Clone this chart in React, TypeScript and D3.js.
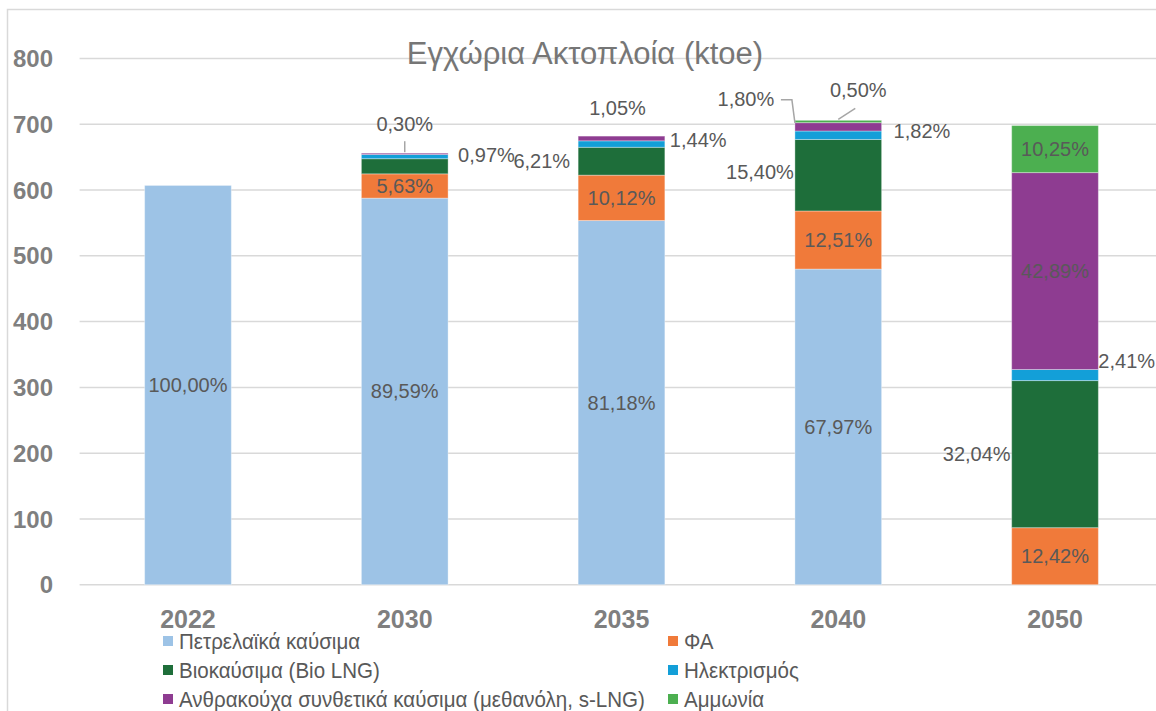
import React from "react";
import * as d3 from "d3";

const years = ["2022", "2030", "2035", "2040", "2050"];
const totals = [607, 656, 682, 706, 698];
const petroleum = [100.0, 89.59, 81.18, 67.97, 0];
const naturalGas = [0, 5.63, 10.12, 12.51, 12.42];
const biofuels = [0, 3.51, 6.21, 15.4, 32.04];
const electricity = [0, 0.97, 1.44, 1.82, 2.41];
const synthetic = [0, 0.3, 1.05, 1.8, 42.89];
const ammonia = [0, 0, 0, 0.5, 10.25];
const yTicks = [0, 100, 200, 300, 400, 500, 600, 700, 800];

const seriesNames = [
  "Πετρελαϊκά καύσιμα",
  "ΦΑ",
  "Βιοκαύσιμα (Bio LNG)",
  "Ηλεκτρισμός",
  "Ανθρακούχα συνθετικά καύσιμα (μεθανόλη, s-LNG)",
  "Αμμωνία",
];
const seriesShares = [petroleum, naturalGas, biofuels, electricity, synthetic, ammonia];
const colors = ["#9DC3E6", "#F07A3A", "#1E6E3A", "#139FD8", "#8E3C91", "#4CAF50"];

// label placement: c=centre, l=left, r=right, a=above, n=none, custom keys
const placement: string[][] = [
  ["c", "c", "c", "c", "n"],
  ["n", "c", "c", "c", "c"],
  ["n", "n", "l", "l", "l"],
  ["n", "r", "r", "r", "r"],
  ["n", "a1", "a2", "ul", "c"],
  ["n", "n", "n", "ar", "c"],
];

const W = 1156;
const H = 711;
const fmt = (v: number) => v.toFixed(2).replace(".", ",") + "%";

export default function App() {
  const x = d3.scaleBand().domain(years).range([79.6, 1163.4]).paddingInner(0.6).paddingOuter(0.3);
  const y = d3.scaleLinear().domain([0, 800]).range([584.7, 58.5]);
  const bw = x.bandwidth();

  const data = years.map((yr, i) => {
    const row: any = { year: yr };
    seriesNames.forEach((s, k) => (row[s] = (totals[i] * seriesShares[k][i]) / 100));
    return row;
  });
  const stacked = d3.stack<any>().keys(seriesNames)(data);

  const labelFont = "'Liberation Sans', Arial, sans-serif";
  const labelColor = "#595959";

  const labels: React.ReactNode[] = [];
  const leaders: React.ReactNode[] = [];
  stacked.forEach((layer, k) => {
    layer.forEach((seg, i) => {
      const mode = placement[k][i];
      if (mode === "n") return;
      const yr = years[i];
      const x0 = x(yr)!;
      const cx = x0 + bw / 2;
      const yTop = y(seg[1]);
      const yBot = y(seg[0]);
      const my = (yTop + yBot) / 2;
      const txt = fmt(seriesShares[k][i]);
      let tx = cx, ty = my, anchor = "middle";
      if (mode === "l") {
        anchor = "end";
        tx = x0 - (i === 2 ? 8 : 1);
        ty = my + (i === 3 ? -3 : 0);
      } else if (mode === "r") {
        anchor = "start";
        const off = [0, 10, 5, 12, 0][i];
        const dys = [0, -2, -4, -4, -14][i];
        tx = x0 + bw + off;
        ty = my + dys;
      } else if (mode === "a1") {
        ty = yTop - 29;
        leaders.push(
          <line key={"ld" + k + i} x1={cx} x2={cx} y1={yTop - 12} y2={yTop - 1} stroke="#a6a6a6" strokeWidth={1.5} />
        );
      } else if (mode === "a2") {
        tx = cx - 4;
        ty = yTop - 28;
      } else if (mode === "ul") {
        tx = x0 - 49;
        ty = my - 28;
        leaders.push(
          <polyline key={"ld" + k + i} points={`${x0 - 14},${ty + 1} ${x0 - 3},${ty + 1} ${x0},${my - 4}`} fill="none" stroke="#a6a6a6" strokeWidth={1.5} />
        );
      } else if (mode === "ar") {
        tx = cx + 20;
        ty = yTop - 30;
        leaders.push(
          <line key={"ld" + k + i} x1={cx + 17} y1={yTop - 12} x2={cx} y2={yTop - 1} stroke="#a6a6a6" strokeWidth={1.5} />
        );
      }
      labels.push(
        <text key={"lb" + k + i} x={tx} y={ty} dy="0.35em" textAnchor={anchor} fontFamily={labelFont} fontSize={20} fill={labelColor}>
          {txt}
        </text>
      );
    });
  });

  const legendRows = [641, 670, 699];
  const legendCols = [163, 668];

  return (
    <div style={{ position: "absolute", left: 0, top: 0 }}>
      <svg width={W} height={H} style={{ display: "block" }}>
        <rect x={0} y={0} width={W} height={H} fill="#fff" />
        <rect x={7.5} y={9.5} width={W + 20} height={H + 20} fill="none" stroke="#d9d9d9" strokeWidth={1.5} />
        {yTicks.map((t) => (
          <g key={t}>
            <line x1={79.6} x2={W} y1={y(t)} y2={y(t)} stroke="#d9d9d9" strokeWidth={1.5} />
            <text x={53} y={y(t)} dy="0.36em" textAnchor="end" fontFamily={labelFont} fontWeight="bold" fontSize={24} fill="#7f7f7f">
              {t}
            </text>
          </g>
        ))}
        <text x={585} y={53} dy="0.35em" textAnchor="middle" fontFamily={labelFont} fontSize={31} fill="#767676">
          Εγχώρια Ακτοπλοία (ktoe)
        </text>
        {stacked.map((layer, k) => (
          <g key={k} fill={colors[k]}>
            {layer.map((seg, i) => {
              const h = y(seg[0]) - y(seg[1]);
              if (h <= 0) return null;
              return (
                <rect key={i} x={x(years[i])!} y={y(seg[1])} width={bw} height={h} stroke="rgba(255,255,255,0.35)" strokeWidth={1} />
              );
            })}
          </g>
        ))}
        {leaders}
        {labels}
        {years.map((yr) => (
          <text key={yr} x={x(yr)! + bw / 2} y={628} textAnchor="middle" fontFamily={labelFont} fontWeight="bold" fontSize={25} fill="#7f7f7f">
            {yr}
          </text>
        ))}
        {seriesNames.map((s, k) => {
          const col = legendCols[k % 2];
          const row = legendRows[Math.floor(k / 2)];
          return (
            <g key={s}>
              <rect x={col} y={row - 5} width={10} height={10} fill={colors[k]} />
              <text
                transform={`translate(${col + 16},${row}) scale(0.935,1)`}
                dy="0.35em"
                fontFamily="'Liberation Sans Narrow', 'Liberation Sans', sans-serif"
                fontSize={22}
                fill={labelColor}
              >
                {s}
              </text>
            </g>
          );
        })}
      </svg>
    </div>
  );
}
